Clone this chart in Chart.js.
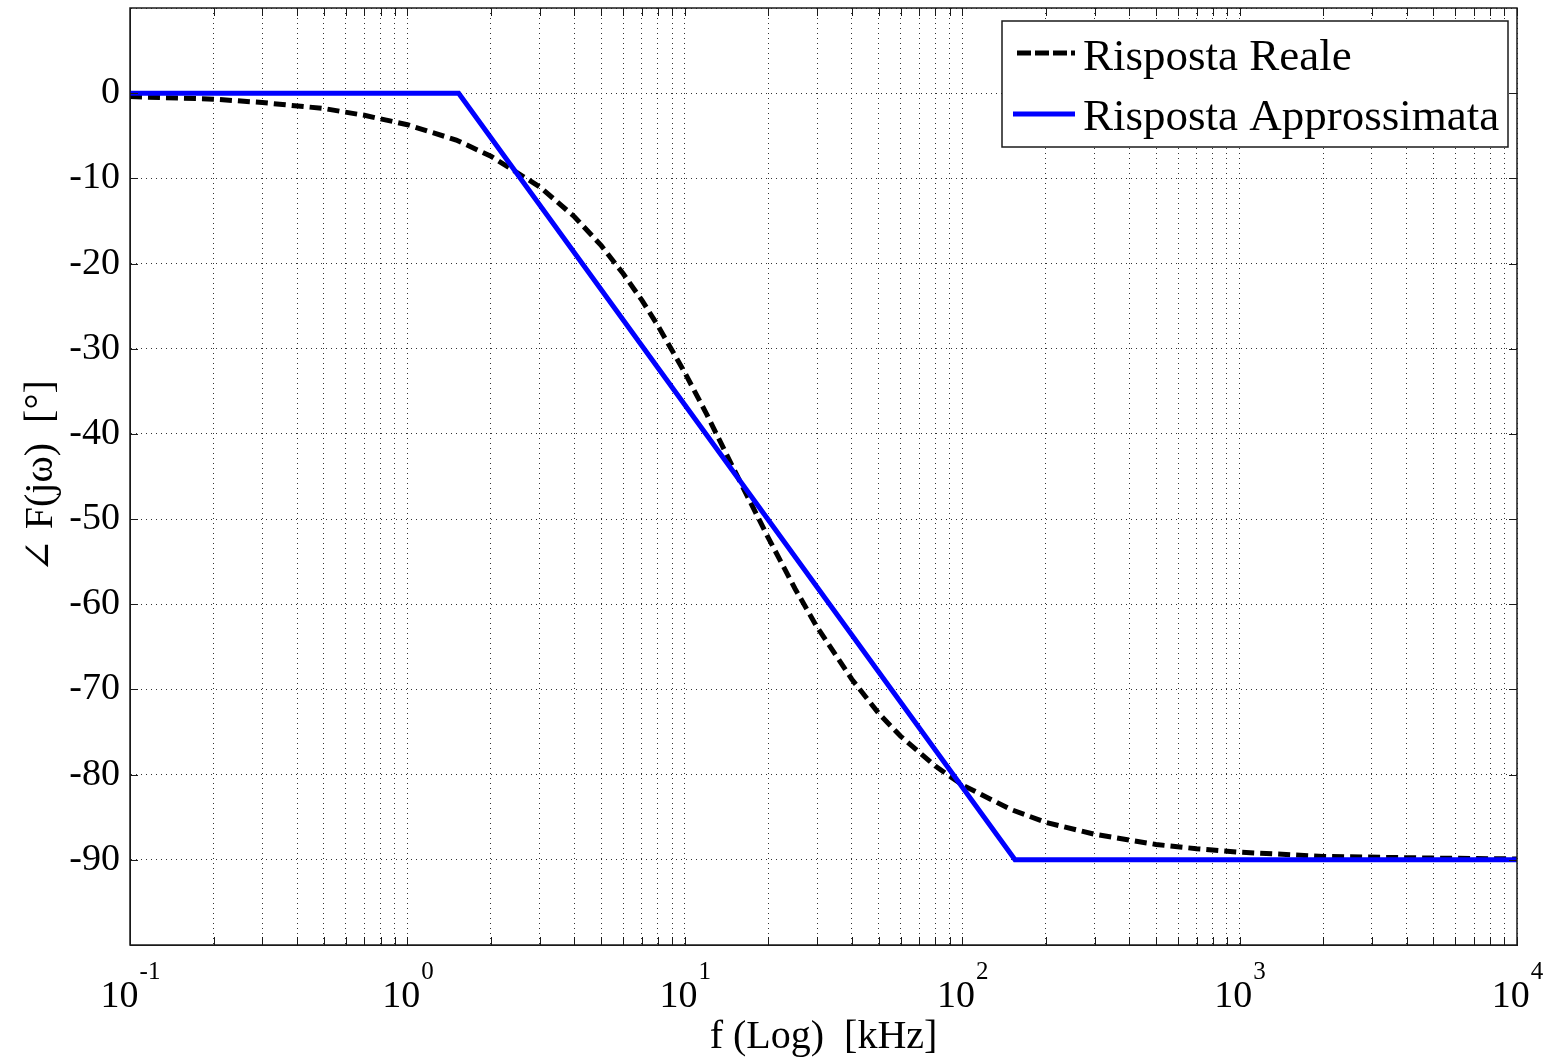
<!DOCTYPE html>
<html><head><meta charset="utf-8">
<script src="https://cdn.jsdelivr.net/npm/chart.js@4/dist/chart.umd.min.js"></script>
<style>html,body{margin:0;padding:0;background:#fff;overflow:hidden}#wrap{width:1552px;height:1057px}</style>
</head><body><div id="wrap"><canvas id="c" width="1552" height="1057"></canvas></div>
<script>
// ---- data ----
const freqReal  = [0.1, 0.2, 0.3, 0.5, 0.7, 1, 1.5, 2, 3, 4, 5, 6, 7, 8, 10, 12, 15, 20, 25, 30, 40, 50, 60, 80, 100, 150, 200, 300, 500, 700, 1000, 2000, 5000, 10000];
const phaseReal = [-0.4, -0.7, -1.1, -1.8, -2.6, -3.7, -5.5, -7.4, -11.0, -14.5, -17.9, -21.2, -24.3, -27.3, -32.8, -37.7, -44.1, -52.2, -58.2, -62.7, -68.8, -72.8, -75.5, -79.0, -81.2, -84.1, -85.6, -87.0, -88.2, -88.7, -89.1, -89.6, -89.8, -89.9];
const freqApprox  = [0.1, 1.53, 155, 10000];
const phaseApprox = [0, 0, -90, -90];
const xMajorTicks = [0.1, 1, 10, 100, 1000, 10000];
const xTickExponents = ['-1', '0', '1', '2', '3', '4'];
const yTickLabels = [0, -10, -20, -30, -40, -50, -60, -70, -80, -90];
const seriesLabels = ['Risposta Reale', 'Risposta Approssimata'];
const xTitle = 'f (Log)  [kHz]';
const yTitle = '\u2220 F(j\u03C9)  [\u00B0]';

const FONT = "'Liberation Serif', 'DejaVu Serif', serif";
const INK = '#1a1a1a';

function xAllTicks() {
  const t = [];
  for (let e = -1; e <= 3; e++) for (let m = 1; m <= 9; m++) t.push(m * Math.pow(10, e));
  t.push(10000);
  return t;
}

const frame = {
  id: 'frame',
  afterDatasetsDraw(chart) {
    const ctx = chart.ctx, a = chart.chartArea, xs = chart.scales.x, ys = chart.scales.y;
    ctx.save();
    // inward tick marks
    ctx.strokeStyle = INK; ctx.lineWidth = 1; ctx.setLineDash([]);
    ctx.beginPath();
    xAllTicks().forEach(v => {
      const px = Math.round(xs.getPixelForValue(v)) + 0.5;
      ctx.moveTo(px, a.bottom); ctx.lineTo(px, a.bottom - 8);
      ctx.moveTo(px, a.top); ctx.lineTo(px, a.top + 8);
    });
    yTickLabels.forEach(v => {
      const py = Math.round(ys.getPixelForValue(v)) + 0.5;
      ctx.moveTo(a.left, py); ctx.lineTo(a.left + 8, py);
      ctx.moveTo(a.right, py); ctx.lineTo(a.right - 8, py);
    });
    ctx.stroke();
    // box
    ctx.lineWidth = 1.5;
    ctx.strokeRect(a.left, a.top, a.right - a.left, a.bottom - a.top);

    // x tick labels with superscript exponents
    ctx.fillStyle = '#000';
    ctx.textBaseline = 'alphabetic';
    ctx.textAlign = 'left';
    xMajorTicks.forEach((v, i) => {
      const px = xs.getPixelForValue(v);
      ctx.font = '38px ' + FONT;
      const wb = ctx.measureText('10').width;
      ctx.font = '25px ' + FONT;
      const we = ctx.measureText(xTickExponents[i]).width;
      const x0 = px - (wb + we) / 2;
      ctx.font = '38px ' + FONT;
      ctx.fillText('10', x0, 1007);
      ctx.font = '25px ' + FONT;
      ctx.fillText(xTickExponents[i], x0 + wb + 1, 979);
    });

    // axis titles
    ctx.font = '40px ' + FONT;
    ctx.textAlign = 'center';
    ctx.fillText(xTitle, (a.left + a.right) / 2, 1048);
    ctx.save();
    ctx.translate(52, (a.top + a.bottom) / 2);
    ctx.rotate(-Math.PI / 2);
    ctx.fillText(yTitle, 0, 0);
    ctx.restore();

    // legend
    const L = 1002, T = 21, R = 1508, B = 147;
    ctx.fillStyle = '#fff';
    ctx.fillRect(L, T, R - L, B - T);
    ctx.strokeStyle = INK; ctx.lineWidth = 1.5;
    ctx.strokeRect(L, T, R - L, B - T);
    ctx.lineWidth = 5; ctx.lineCap = 'butt';
    ctx.strokeStyle = '#000'; ctx.setLineDash([14, 4]);
    ctx.beginPath(); ctx.moveTo(1017, 53); ctx.lineTo(1075, 53); ctx.stroke();
    ctx.setLineDash([]); ctx.strokeStyle = '#0000ff';
    ctx.beginPath(); ctx.moveTo(1013, 114); ctx.lineTo(1075, 114); ctx.stroke();
    ctx.fillStyle = '#000';
    ctx.textAlign = 'left';
    ctx.font = '45px ' + FONT;
    ctx.fillText(seriesLabels[0], 1083, 70);
    ctx.fillText(seriesLabels[1], 1083, 130);
    ctx.restore();
  }
};

new Chart(document.getElementById('c'), {
  type: 'line',
  data: {
    datasets: [
      {
        label: seriesLabels[0],
        data: freqReal.map((f, i) => ({x: f, y: phaseReal[i]})),
        borderColor: '#000', borderWidth: 5, borderDash: [12, 6],
        pointRadius: 0, tension: 0, fill: false, order: 1
      },
      {
        label: seriesLabels[1],
        data: freqApprox.map((f, i) => ({x: f, y: phaseApprox[i]})),
        borderColor: '#0000ff', borderWidth: 5,
        pointRadius: 0, tension: 0, fill: false, order: 0
      }
    ]
  },
  options: {
    responsive: false, animation: false, devicePixelRatio: 1,
    layout: {padding: {left: 0, right: 35, top: 8, bottom: 0}},
    plugins: {legend: {display: false}, tooltip: {enabled: false}},
    scales: {
      x: {
        type: 'logarithmic', min: 0.1, max: 10000,
        afterBuildTicks(s) { s.ticks = xAllTicks().map(v => ({value: v})); },
        afterFit(s) { s.height = 112; s.paddingLeft = 0; s.paddingRight = 0; },
        ticks: {display: false},
        grid: {color: '#333', lineWidth: 1, drawTicks: false},
        border: {display: true, color: INK, width: 1, dash: [1, 4]}
      },
      y: {
        type: 'linear', min: -100, max: 10,
        afterBuildTicks(s) {
          const t = [10]; yTickLabels.forEach(v => t.push(v)); t.push(-100);
          s.ticks = t.map(v => ({value: v}));
        },
        afterFit(s) { s.width = 130; s.paddingTop = 0; s.paddingBottom = 0; },
        ticks: {
          color: '#000', font: {family: FONT, size: 38}, padding: 10,
          callback: v => (yTickLabels.includes(v) ? String(v) : '')
        },
        grid: {color: '#333', lineWidth: 1, drawTicks: false},
        border: {display: true, color: INK, width: 1, dash: [1, 4]}
      }
    }
  },
  plugins: [frame]
});
</script>
</body></html>
